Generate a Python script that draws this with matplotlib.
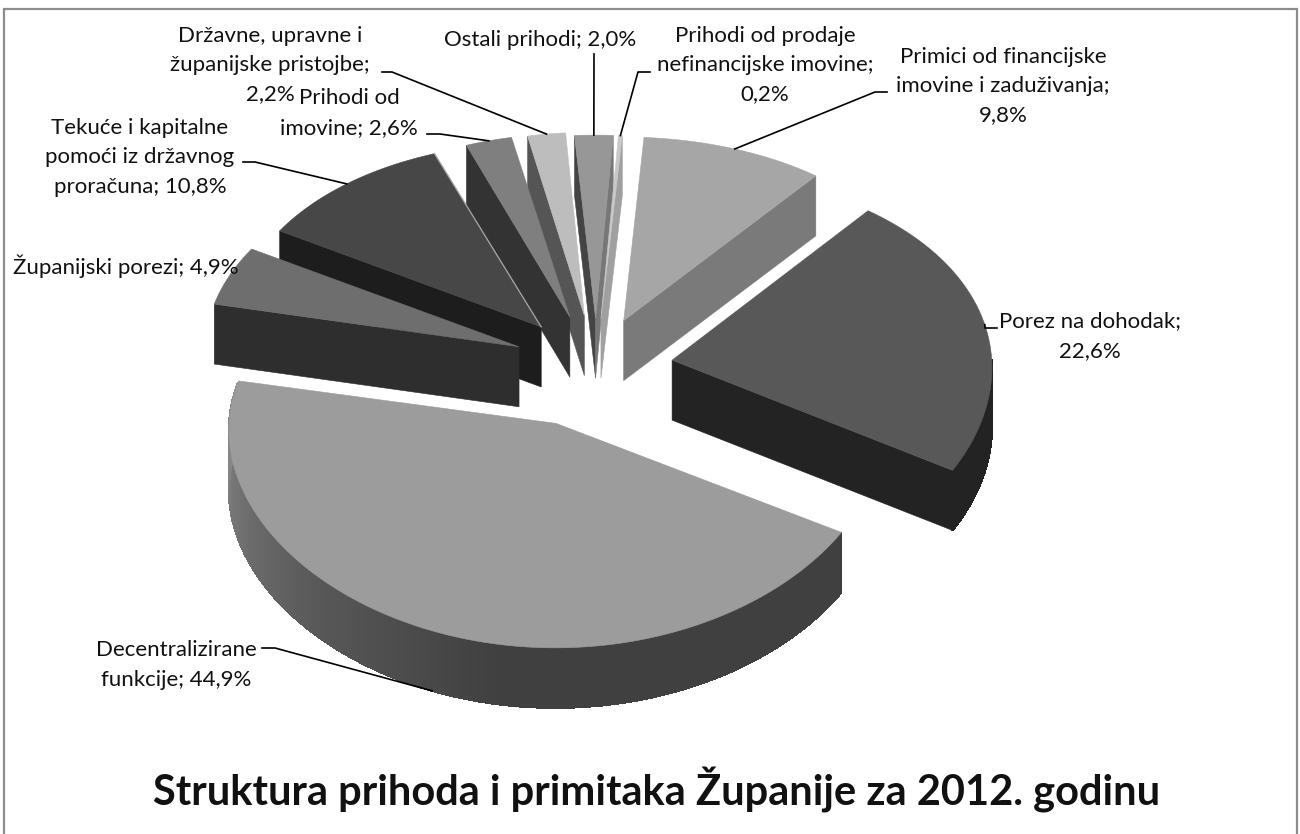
"""Exploded 3D pie of county revenue structure, drawn with polygons."""
import numpy as np
import matplotlib
matplotlib.use("Agg")
import matplotlib.pyplot as plt
from matplotlib.patches import Polygon, Rectangle

plt.rcParams["font.family"] = ["Lato", "DejaVu Sans"]

# clockwise from the top
values = [9.8, 22.6, 44.9, 4.9, 10.8, 2.6, 2.2, 2.0, 0.2]
label_texts = [
    "Primici od financijske\nimovine i zaduživanja;\n9,8%",
    "Porez na dohodak;\n22,6%",
    "Decentralizirane\nfunkcije; 44,9%",
    "Županijski porezi; 4,9%",
    "Tekuće i kapitalne\npomoći iz državnog\nproračuna; 10,8%",
    "Prihodi od\nimovine; 2,6%",
    "Državne, upravne i\nžupanijske pristojbe;\n2,2%",
    "Ostali prihodi; 2,0%",
    "Prihodi od prodaje\nnefinancijske imovine;\n0,2%",
]
title = "Struktura prihoda i primitaka Županije za 2012. godinu"

top_colors = ["#a6a6a6", "#585858", "#9c9c9c", "#6e6e6e", "#474747",
              "#7f7f7f", "#bdbdbd", "#979797", "#c8c8c8"]
side_colors = ["#7a7a7a", "#232323", "#404040", "#2e2e2e", "#1d1d1d",
               "#333333", "#555555", "#4a4a4a", "#a0a0a0"]

# layout, in pixels
CX, CY = 592, 365
RX, RY = 320, 208
PERSP_X = 0.03
PERSP_Y = 0.09
EXPLODE = 0.245
DEPTH = 60
START = 4.0
LINE_PITCH = 29.5
nudge = [(3, 2), (3, 4), (-7, 10), (0, 0), (0, 0), (0, 0), (3, 0), (4, 3), (4, 3)]
x_squash = [0.98, 1, 1.015, 0.985, 0.965, 0.93, 0.9, 1, 1]
y_squash = [1, 1, 0.94, 1, 1, 1, 1, 1, 1]
label_xy = [(1003, 86), (1090, 336), (176, 665), (126, 266), (140, 157),
            (349, 113), (270, 65), (540, 40), (765, 65)]
stub_xy = [[(887, 92), (875, 92)], [(997, 328), (985, 328)], [(262, 648), (275, 648)],
           [], [(243, 162), (255, 162)], [(427, 134), (440, 134)],
           [(382, 72), (392, 72)], [(594, 54)], [(650, 72), (638, 72)]]
leader_drop = [0, 0, DEPTH, 0, 0, 0, 0, 0, 0]
draw_order = [7, 8, 6, 5, 0, 4, 3, 1, 2]


def project(x, y):
    return (CX + RX * x / (1.0 + PERSP_X * y),
            CY - RY * y / (1.0 + PERSP_Y * y))


def apex_point(i, b):
    px, py = project(EXPLODE * np.sin(np.radians(b)), EXPLODE * np.cos(np.radians(b)))
    return px + nudge[i][0], py + nudge[i][1]


def wedge_points(i, b, th):
    """Screen position of rim angle(s) th for slice i exploded along b."""
    r = np.radians(th)
    ex, ey = EXPLODE * np.sin(np.radians(b)), EXPLODE * np.cos(np.radians(b))
    px, py = project(ex + np.sin(r), ey + np.cos(r))
    ax0, ay0 = project(ex, ey)
    ap_x, ap_y = apex_point(i, b)
    return ap_x + (px - ax0) * x_squash[i], ap_y + (py - ay0) * y_squash[i]


def decentral_shade(t):
    # rim of the big slice fades from light on the left to dark on the right
    return np.interp(t, [125, 190, 225, 262, 285], [0x40, 0x40, 0x58, 0x78, 0x92])


fig = plt.figure(figsize=(13, 8.34), dpi=100)
ax = fig.add_axes([0, 0, 1, 1])
ax.set_xlim(0, 1300)
ax.set_ylim(834, 0)
ax.axis("off")
# frame runs off the bottom of the picture
ax.add_patch(Rectangle((4, 9), 1293, 840, fc="white", ec="#8c8c8c", lw=1.6))

fracs = np.array(values) / sum(values) * 360.0
starts = START + np.concatenate([[0], np.cumsum(fracs)[:-1]])
ends = starts + fracs
mids = (starts + ends) / 2

for i in draw_order:
    b, t0, t1 = mids[i], starts[i], ends[i]
    ax_, ay_ = apex_point(i, b)
    th = np.linspace(t0, t1, max(int(fracs[i]) * 2, 3))
    xs, ys = wedge_points(i, b, th)
    z = 2 + draw_order.index(i) * 0.1

    # radial faces, only when turned towards the viewer
    faces = []
    if xs[0] < ax_:
        faces.append((xs[0], ys[0], "#444444" if i == 7 else side_colors[i]))
    if xs[-1] > ax_:
        faces.append((xs[-1], ys[-1], "#777777" if i == 7 else side_colors[i]))
    for fx, fy, col in faces:
        ax.add_patch(Polygon([(ax_, ay_), (fx, fy), (fx, fy + DEPTH), (ax_, ay_ + DEPTH)],
                             fc=col, ec=col, lw=0.4, zorder=z))

    # outer rim, front half only
    for k in range(len(th) - 1):
        m = (th[k] + th[k + 1]) / 2 % 360
        if not 90 < m < 282:
            continue
        col = side_colors[i]
        if i == 2:
            g = decentral_shade(m) / 255.0
            col = (g, g, g)
        ax.add_patch(Polygon([(xs[k], ys[k]), (xs[k + 1], ys[k + 1]),
                              (xs[k + 1], ys[k + 1] + DEPTH), (xs[k], ys[k] + DEPTH)],
                             fc=col, ec=col, lw=0.8, antialiased=False, zorder=z))

    top = [(ax_, ay_)] + list(zip(xs, ys))
    ax.add_patch(Polygon(top, fc=top_colors[i], ec=top_colors[i], lw=0.4, zorder=z + 0.05))
    if i == 4:
        ax.plot([xs[-1], ax_], [ys[-1], ay_], color="#a8a8a8", lw=0.9, zorder=3.2)

# leader lines end on the rim at the middle of each slice
for i, stub in enumerate(stub_xy):
    if not stub:
        continue
    ex_, ey_ = wedge_points(i, mids[i], mids[i])
    pts = stub + [(float(ex_), float(ey_) + leader_drop[i])]
    ax.plot([p[0] for p in pts], [p[1] for p in pts], color="black", lw=1.2,
            solid_joinstyle="round", zorder=5)

# one text per line so neighbouring labels can sit as tight as in the original
for txt, (lx, ly) in zip(label_texts, label_xy):
    lines = txt.split("\n")
    y0 = ly - LINE_PITCH * (len(lines) - 1) / 2
    for n, line in enumerate(lines):
        ax.text(lx, y0 + n * LINE_PITCH, line, ha="center", va="center", fontsize=16,
                color="#111111", zorder=6)

ax.text(657, 790, title, ha="center", va="center", fontsize=30, fontweight="bold",
        color="#111111", zorder=6)

fig.savefig("out.png", dpi=100)
plt.close(fig)
